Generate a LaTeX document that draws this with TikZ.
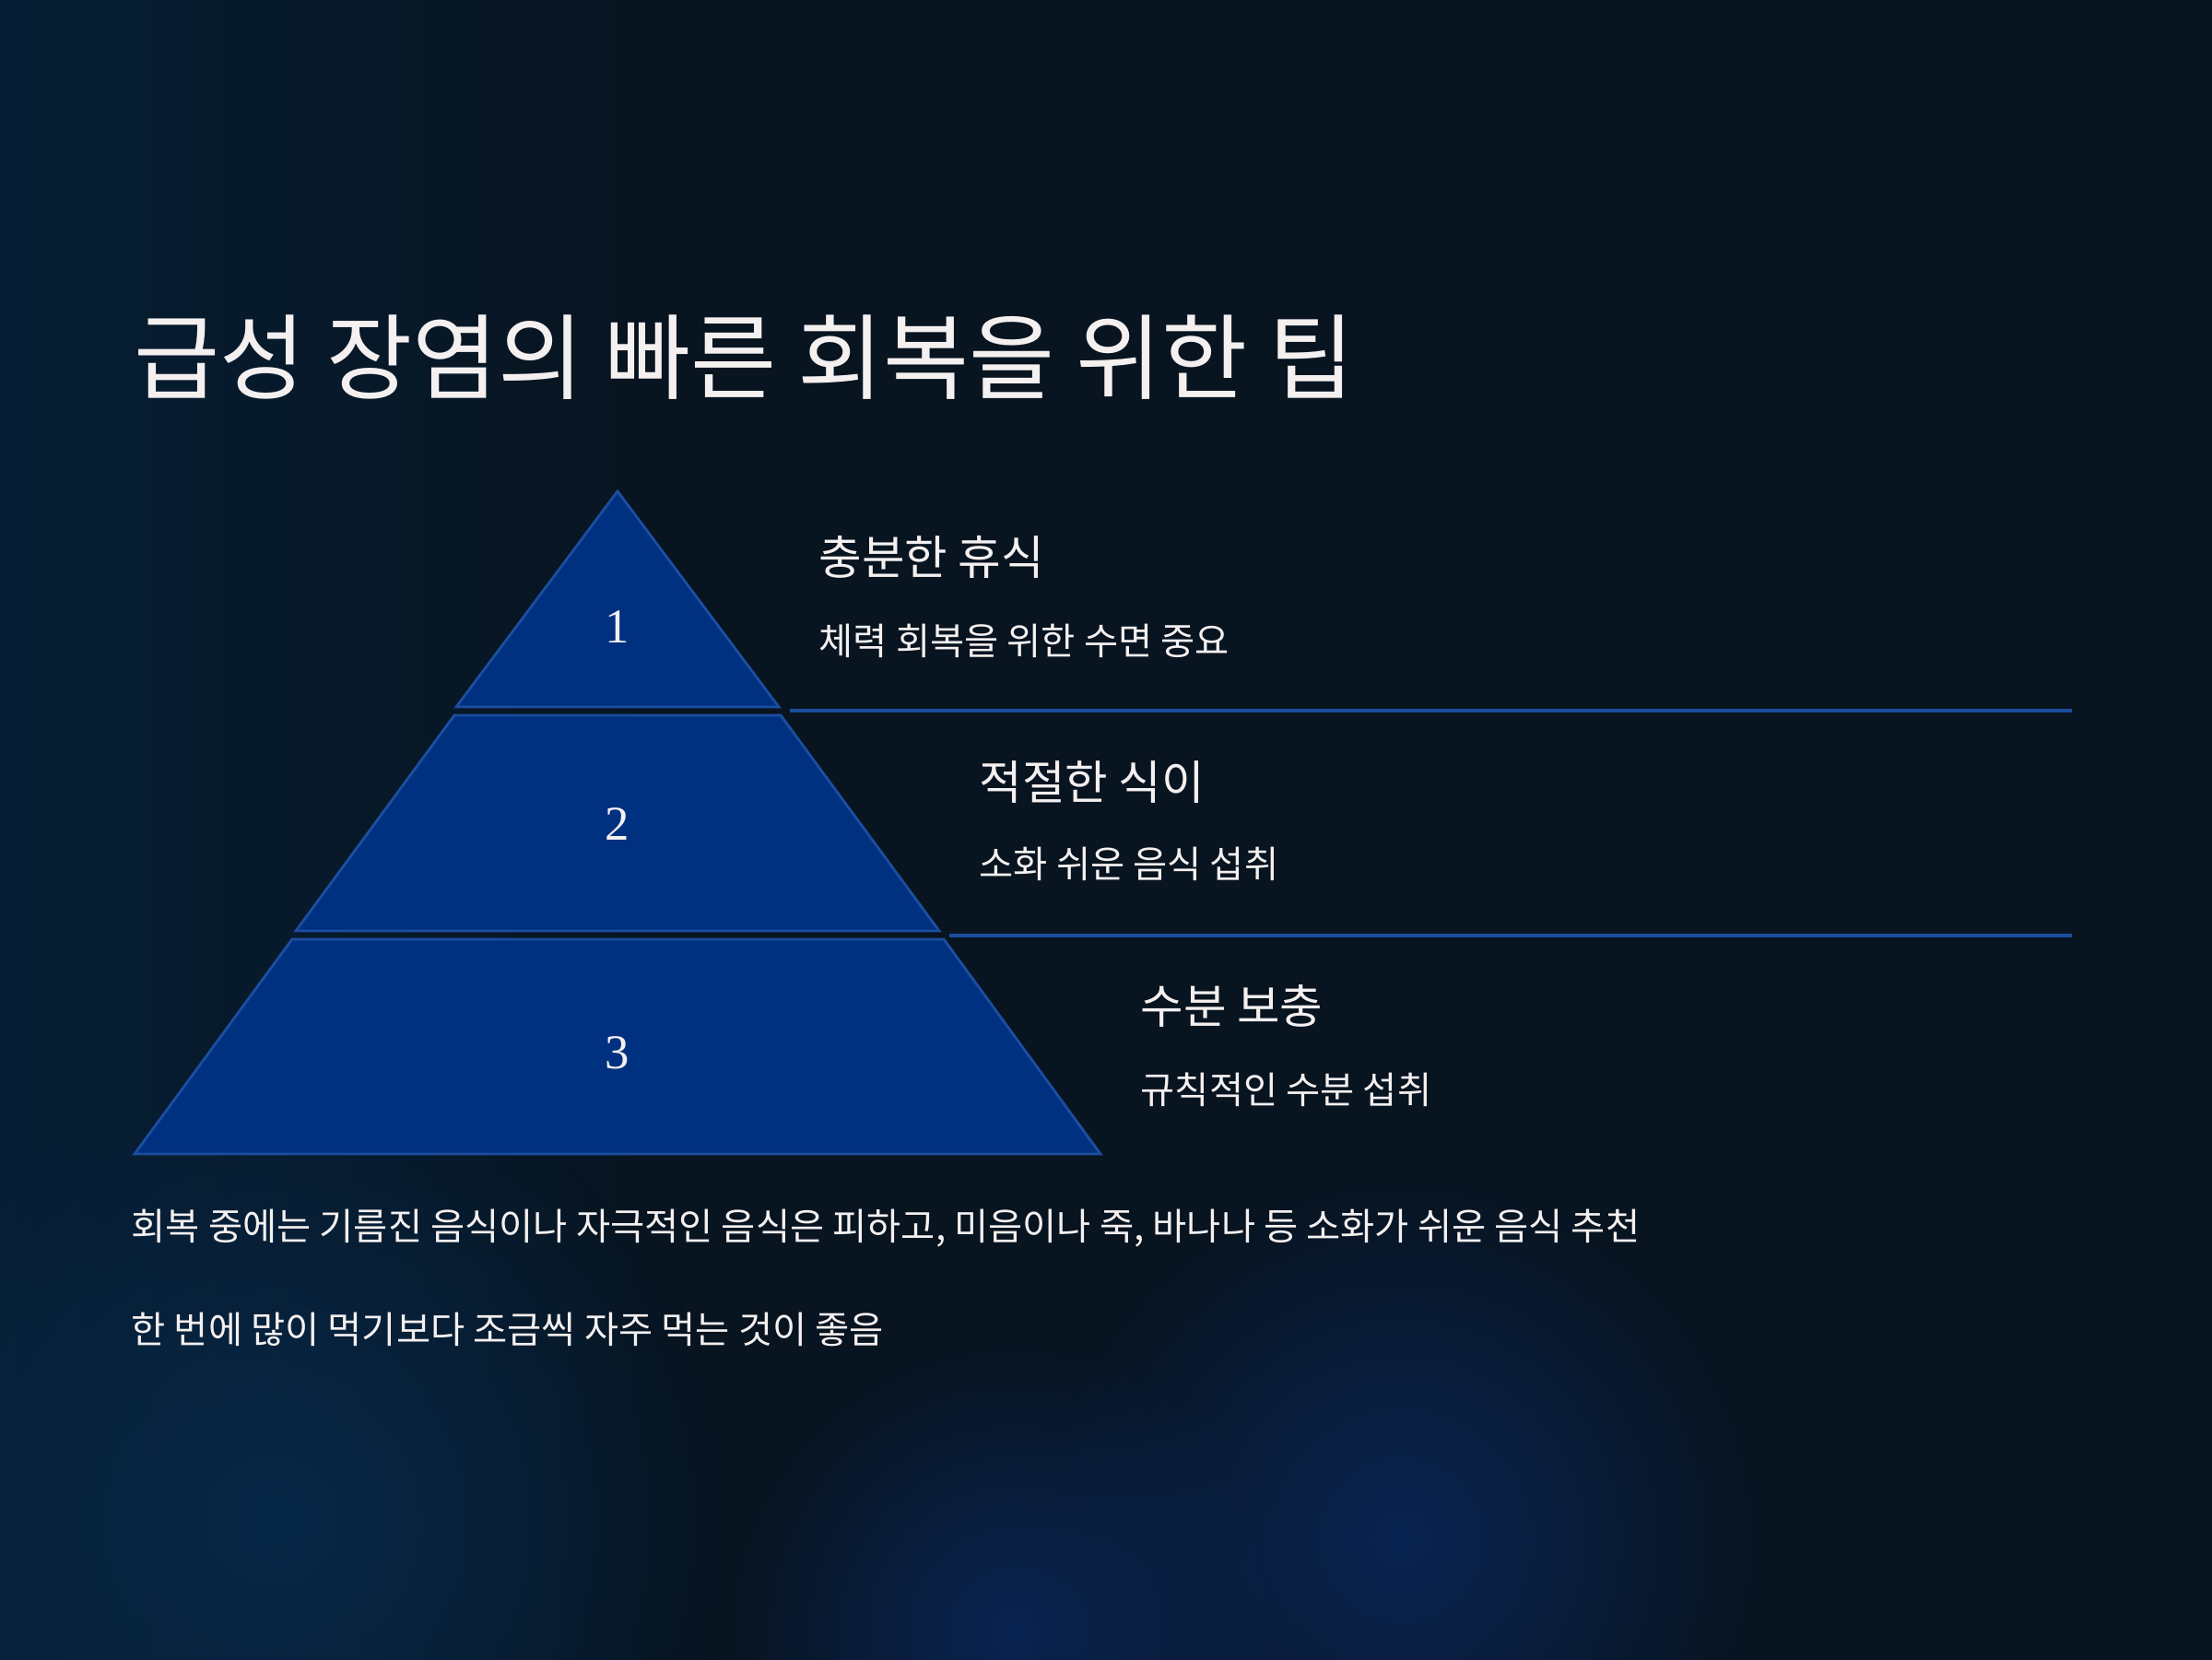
\documentclass[tikz,border=0pt]{standalone}
\usepackage{fontspec}
\setmainfont{Liberation Serif}
\newfontfamily\krfont{Noto Sans CJK KR}
\usetikzlibrary{fadings}
\tikzfading[name=softglow,inner color=transparent!0,outer color=transparent!100]
\definecolor{bgbase}{RGB}{8,20,32}
\definecolor{bgglow}{RGB}{7,40,68}
\definecolor{bgedge}{RGB}{6,30,52}
\definecolor{bgblue}{RGB}{10,36,82}
\definecolor{bgleft}{RGB}{7,40,72}
\definecolor{tierfill}{RGB}{0,48,128}
\definecolor{tieredge}{RGB}{28,78,160}
\definecolor{txtwhite}{RGB}{244,240,240}

\begin{document}
\begin{tikzpicture}[
  tier/.style={fill=tierfill,draw=tieredge,line width=0.8pt},
  sepline/.style={draw=tieredge,line width=0.9pt},
  glow/.style={path fading=softglow},
  tiernum/.style={text=txtwhite,inner sep=0pt,font=\fontsize{15}{18}\selectfont},
  title/.style={anchor=base west,inner sep=0pt,text=txtwhite,font=\krfont\fontsize{28.8}{34}\selectfont},
  head/.style={anchor=base west,inner sep=0pt,text=txtwhite,font=\krfont\fontsize{14.4}{17}\selectfont},
  desc/.style={anchor=base west,inner sep=0pt,text=txtwhite,font=\krfont\fontsize{11.5}{14}\selectfont}]
\useasboundingbox (0,0) rectangle (24,18);
% background
\fill[bgbase] (-0.2,-0.2) rectangle (24.2,18.2);
\shade[left color=bgedge,middle color=bgglow,right color=bgbase] (-0.2,-0.2) rectangle (7.2,18.2);
\fill[bgleft,glow] (3.0,1.5) circle (5.0);
\fill[bgblue,glow] (15.2,1.3) circle (4.0);
\fill[bgblue,glow] (11.0,0.3) circle (3.2);
% title
\node[title] (ttl) at (1.45,13.74) {급성 장염의 빠른 회복을 위한 팁};
% pyramid
\path[tier] (6.70,12.67) -- (8.45,10.33) -- (4.95,10.33) -- cycle;
\path[tier] (4.93,10.24) -- (8.47,10.24) -- (10.19,7.90) -- (3.21,7.90) -- cycle;
\path[tier] (3.17,7.81) -- (10.24,7.81) -- (11.94,5.48) -- (1.46,5.48) -- cycle;
\node[tiernum] (n1) at (6.70,11.20) {1};
\node[tiernum] (n2) at (6.70,9.06) {2};
\node[tiernum] (n3) at (6.70,6.58) {3};
% separators
\coordinate (s1a) at (8.57,10.29);
\coordinate (s1b) at (22.48,10.29);
\coordinate (s2a) at (10.30,7.85);
\coordinate (s2b) at (22.48,7.85);
\draw[sepline] (s1a) -- (s1b);
\draw[sepline] (s2a) -- (s2b);
% labels
\node[head] (h1) at (8.88,11.77) {충분한 휴식};
\node[desc] (d1) at (8.88,10.90) {체력 회복을 위한 수면 중요};
\node[head] (h2) at (10.62,9.33) {적절한 식이};
\node[desc] (d2) at (10.62,8.48) {소화 쉬운 음식 섭취};
\node[head] (h3) at (12.37,6.90) {수분 보충};
\node[desc] (d3) at (12.37,6.03) {규칙적인 수분 섭취};
% notes
\node[desc] (note1) at (1.42,4.55) {회복 중에는 기름진 음식이나 자극적인 음식은 피하고, 미음이나 죽, 바나나 등 소화가 쉬운 음식 추천};
\node[desc] (note2) at (1.42,3.43) {한 번에 많이 먹기보다 조금씩 자주 먹는 것이 좋음};
\end{tikzpicture}
\end{document}
